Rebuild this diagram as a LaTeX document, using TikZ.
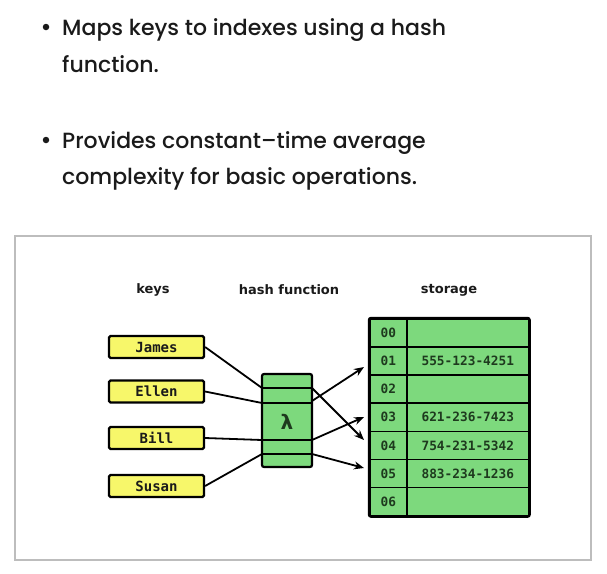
\documentclass[tikz,border=0pt]{standalone}
\usepackage{fontspec}
\newfontfamily\bulletfont{Poppins}[UprightFont={* Medium}]
\newfontfamily\hdfont{DejaVu Sans}
\newfontfamily\monofont{DejaVu Sans Mono}
\usetikzlibrary{arrows.meta}
\definecolor{txt}{HTML}{1A1A1A}
\definecolor{keyfill}{HTML}{F7F76A}
\definecolor{cellfill}{HTML}{7DD97D}
\definecolor{celltxt}{HTML}{1E3A1E}
\definecolor{framegray}{HTML}{BDBDBD}
\tikzset{
  bullettext/.style={anchor=base west, inner sep=0pt, font=\bulletfont\fontsize{22}{26}\selectfont, text=txt},
  bulletdot/.style={circle, fill=txt, inner sep=0pt, minimum size=6.5},
  header/.style={font=\hdfont\bfseries\fontsize{13}{15}\selectfont, text=txt},
  keybox/.style={draw=black, line width=2.2pt, fill=keyfill, rounded corners=1.5pt,
    minimum width=95, minimum height=22, inner sep=0pt,
    font=\monofont\bfseries\fontsize{14}{16}\selectfont, text=txt},
  cell/.style={draw=black, line width=1.6pt, fill=cellfill, inner sep=0pt,
    minimum height=28.14, anchor=north west,
    font=\monofont\bfseries\fontsize{12.8}{14}\selectfont, text=celltxt},
  conn/.style={line width=1.8pt, black},
  arr/.style={conn, -{Stealth[length=10pt,width=8pt]}},
}
\begin{document}
\begin{tikzpicture}[x=1pt,y=-1pt]
\path[use as bounding box] (0,0) rectangle (607,573);
% bullet text
\node[bulletdot] (b1) at (46,27) {};
\node[bullettext] (t1) at (62,35) {Maps keys to indexes using a hash};
\node[bullettext] (t2) at (62,72) {function.};
\node[bulletdot] (b2) at (46,140) {};
\node[bullettext] (t3) at (62,148) {Provides constant–time average};
\node[bullettext] (t4) at (62,184) {complexity for basic operations.};
% frame
\draw[framegray, line width=1.8pt] (15,236) rectangle (591,560);
% headers
\node[header] (hk) at (153,290) {keys};
\node[header] (hh) at (289,290) {hash function};
\node[header] (hs) at (449,290) {storage};
% keys
\node[keybox] (james) at (156.5,347) {James};
\node[keybox] (ellen) at (156.5,391.5) {Ellen};
\node[keybox] (bill)  at (156.5,438) {Bill};
\node[keybox] (susan) at (156.5,486) {Susan};
% hash function
\node[draw=black, line width=2.2pt, fill=cellfill, rounded corners=2pt,
  minimum width=50, minimum height=93, inner sep=0pt] (hf) at (287,420.5) {};
\draw[line width=1.6pt] (262,388) coordinate (hl1) -- (312,388) coordinate (hr1);
\draw[line width=1.6pt] (262,403) coordinate (hl2) -- (312,403) coordinate (hr2);
\draw[line width=1.6pt] (262,440) coordinate (hl3) -- (312,440) coordinate (hr3);
\draw[line width=1.6pt] (262,454) coordinate (hl4) -- (312,454) coordinate (hr4);
\node[font=\hdfont\bfseries\fontsize{20}{22}\selectfont, text=celltxt] (lam) at (287,422) {λ};
% storage
\foreach \i/\v [count=\k from 0] in {00/,01/555-123-4251,02/,03/621-236-7423,04/754-231-5342,05/883-234-1236,06/}{
  \node[cell, minimum width=37] (i\k) at (369,318+\k*28.14) {\i};
  \node[cell, minimum width=122] (v\k) at (406,318+\k*28.14) {\v};
}
\draw[line width=2.4pt, rounded corners=2pt] (i0.north west) rectangle (v6.south east);
% arrow targets
\coordinate (a1) at (364,367);
\coordinate (a3) at (364,417);
\coordinate (a4) at (364,440);
\coordinate (a5) at (364,468);
% connectors
\draw[conn] (james.east) -- (hl1);
\draw[conn] (ellen.east) -- (hl2);
\draw[conn] (bill.east) -- (hl3);
\draw[conn] (susan.east) -- (hl4);
\draw[arr] (312,401) -- (a1);
\draw[arr] (hr1) -- (a4);
\draw[arr] (hr3) -- (a3);
\draw[arr] (hr4) -- (a5);
\end{tikzpicture}
\end{document}
